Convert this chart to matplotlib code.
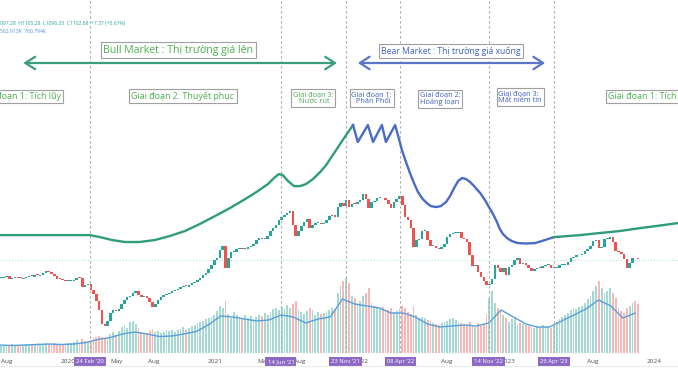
import numpy as np
import pandas as pd
import matplotlib
matplotlib.use('Agg')
import matplotlib.pyplot as plt
import matplotlib.dates as mdates
from matplotlib.lines import Line2D

plt.rcParams['font.family'] = ['Open Sans', 'DejaVu Sans']

# weekly closes (index points), weeks starting Mon 2019-07-15
closes = [
    985, 990, 995, 975, 980, 985, 980, 975, 980, 990, 995, 990,           # 2019 Jul-Sep
    1000, 995, 1005, 1015, 1030, 1020, 1010, 995, 975, 970, 965, 960, 965,  # 2019 Oct-Dec
    965, 970, 985, 980, 920, 935, 940, 905, 880, 830, 770, 680, 665,      # 2020 Jan-Mar
    700, 755, 775, 765, 780, 815, 835, 855, 865, 885, 900, 870, 860,      # 2020 Apr-Jun
    865, 850, 825, 795, 815, 835, 855, 870, 878, 885, 898, 905, 910,      # 2020 Jul-Sep
    920, 930, 925, 935, 950, 958, 970, 985, 1000, 1015, 1040, 1065, 1100,  # 2020 Oct-Dec
    1115, 1165, 1195, 1050, 1110, 1150, 1155, 1175, 1180, 1170, 1175, 1185, 1190,  # 2021 Jan-Mar
    1205, 1230, 1245, 1235, 1240, 1260, 1290, 1310, 1330, 1365, 1380, 1395, 1410,  # 2021 Apr-Jun
    1420, 1330, 1260, 1290, 1320, 1350, 1370, 1310, 1330, 1340, 1345, 1335, 1340,  # 2021 Jul-Sep
    1360, 1390, 1395, 1385, 1445, 1475, 1455, 1490, 1445, 1470, 1465, 1480, 1495,  # 2021 Oct-Dec
    1530, 1500, 1440, 1480, 1485, 1505, 1510, 1505, 1495, 1470, 1440, 1480, 1500,  # 2022 Jan-Mar
    1520, 1460, 1380, 1365, 1310, 1185, 1230, 1240, 1290, 1290, 1230, 1190, 1195,  # 2022 Apr-Jun
    1180, 1170, 1185, 1205, 1250, 1270, 1275, 1280, 1282, 1245, 1235, 1215, 1130,  # 2022 Jul-Sep
    1060, 1065, 1020, 990, 960, 935, 945, 975, 1065, 1045, 1020, 1050, 1005,      # 2022 Oct-Dec
    1055, 1070, 1100, 1110, 1075, 1080, 1065, 1050, 1030, 1040, 1050, 1045, 1060,  # 2023 Jan-Mar
    1065, 1065, 1045, 1050, 1050, 1065, 1065, 1070, 1090, 1110, 1120, 1130, 1130,  # 2023 Apr-Jun
    1140, 1160, 1175, 1195, 1225, 1230, 1180, 1185, 1235, 1240, 1250, 1215, 1160,  # 2023 Jul-Sep
    1150, 1140, 1105, 1045, 1080, 1110, 1105, 1103,                                # 2023 Oct-Nov
]

# weekly volume (million shares)
volumes = [
    150, 170, 160, 140, 180, 160, 150, 170, 150, 190, 160, 170,
    180, 200, 170, 190, 210, 190, 180, 200, 170, 190, 180, 160, 200,
    200, 220, 260, 180, 280, 240, 230, 270, 300, 320, 350, 330, 300,
    310, 380, 420, 360, 450, 520, 560, 500, 620, 650, 580, 500, 420,
    380, 400, 450, 480, 420, 440, 400, 430, 460, 440, 470, 420, 460,
    480, 520, 460, 500, 540, 560, 600, 620, 640, 680, 700, 720, 760,
    850, 950, 900, 1050, 780, 700, 820, 760, 720, 680, 760, 700, 740,
    680, 720, 760, 740, 800, 760, 820, 880, 900, 860, 920, 880, 960,
    900, 980, 1050, 860, 820, 780, 840, 900, 860, 760, 820, 780, 800,
    840, 860, 900, 880, 1200, 1350, 1450, 1500, 1400, 1150, 1100, 1000, 1050,
    1150, 1200, 1300, 1000, 950, 900, 880, 920, 850, 860, 900, 820, 840,
    880, 950, 900, 820, 780, 950, 760, 700, 720, 700, 660, 640, 600,
    580, 560, 600, 620, 640, 680, 700, 660, 620, 600, 580, 560, 620,
    560, 520, 600, 540, 580, 780, 1100, 1250, 1000, 900, 850, 760, 700,
    620, 680, 720, 560, 600, 580, 560, 540, 520, 500, 540, 520, 560,
    540, 520, 500, 560, 620, 680, 720, 760, 800, 860, 900, 880, 920,
    940, 1000, 1080, 1150, 1250, 1350, 1450, 1300, 1200, 1250, 1300, 1200, 1100,
    900, 850, 800, 900, 950, 1000, 1050, 980,
]

# monthly volume moving average (mid-month), Jul 2019 -> Nov 2023
vol_ma = [
    160, 150, 160, 170, 180, 170,
    180, 210, 270, 310, 380, 420, 380, 330, 340, 380, 430, 560,
    740, 720, 680, 640, 660, 760, 720, 600, 680, 720, 1080, 980,
    940, 900, 800, 800, 720, 580, 520, 540, 560, 540, 600, 860,
    720, 580, 520, 520, 640, 760, 880, 1060, 940, 700, 800,
]

# hand-drawn cycle curves
bull_dates = ['2019-07-15', '2019-11-04', '2020-02-24', '2020-03-20', '2020-04-19', '2020-05-21',
              '2020-06-27', '2020-08-04', '2020-09-10', '2020-10-18', '2020-11-24', '2021-01-01',
              '2021-02-07', '2021-03-17', '2021-04-18', '2021-05-13', '2021-05-28', '2021-06-09',
              '2021-06-19', '2021-07-02', '2021-07-17', '2021-08-01', '2021-08-16', '2021-09-02',
              '2021-09-20', '2021-10-05', '2021-10-25', '2021-11-17', '2021-12-11']
bull_vals = [1263, 1263, 1263, 1250, 1231, 1218, 1218, 1231, 1257, 1290, 1336, 1388, 1440, 1499,
             1552, 1598, 1637, 1663, 1656, 1617, 1584, 1584, 1598, 1630, 1676, 1722, 1801, 1892, 1984]

bear_dates = ['2021-12-11', '2021-12-23', '2022-01-17', '2022-01-30', '2022-02-21', '2022-03-03',
              '2022-03-26', '2022-04-02', '2022-04-12', '2022-04-22', '2022-05-02', '2022-05-12',
              '2022-05-22', '2022-06-03', '2022-06-13', '2022-06-23', '2022-07-06', '2022-07-18',
              '2022-07-31', '2022-08-10', '2022-08-20', '2022-08-30', '2022-09-09', '2022-09-19',
              '2022-09-29', '2022-10-11', '2022-10-24', '2022-11-05', '2022-11-15', '2022-11-25',
              '2022-12-05', '2022-12-12', '2022-12-20', '2022-12-30', '2023-01-11', '2023-01-26',
              '2023-02-15', '2023-03-10', '2023-04-04', '2023-04-26']
bear_vals = [1984, 1873, 1984, 1873, 1984, 1873, 1984, 1918, 1820, 1742, 1670, 1604, 1545, 1499,
             1473, 1453, 1447, 1453, 1480, 1519, 1571, 1617, 1637, 1630, 1611, 1578, 1539, 1493,
             1447, 1401, 1349, 1303, 1270, 1244, 1224, 1211, 1208, 1211, 1231, 1250]

bull2_dates = ['2023-04-26', '2023-06-30', '2023-08-19', '2023-10-08', '2023-11-27', '2024-01-16', '2024-02-29']
bull2_vals = [1250, 1263, 1277, 1290, 1309, 1326, 1342]

events = ['2020-02-24', '2021-06-14', '2021-11-23', '2022-04-08', '2022-11-14', '2023-04-26']
event_labels = ["24 Feb '20", "14 Jun '21", "23 Nov '21", "08 Apr '22", "14 Nov '22", "26 Apr '23"]

tick_dates = ['2019-08-01', '2020-01-01', '2020-05-01', '2020-08-01', '2021-01-01', '2021-05-01',
              '2021-08-01', '2022-01-01', '2022-05-01', '2022-08-01', '2023-01-01', '2023-05-01',
              '2023-08-01', '2024-01-01']
tick_labels = ['Aug', '2020', 'May', 'Aug', '2021', 'May', 'Aug', '2022', 'May', 'Aug', '2023',
               'May', 'Aug', '2024']

last_close = 1103

weeks = pd.date_range('2019-07-15', periods=len(closes), freq='7D') + pd.Timedelta(days=2)
x = mdates.date2num(weeks)
c = np.array(closes, dtype=float)
o = np.r_[c[0], c[:-1]]
up = c >= o

fig = plt.figure(figsize=(6.78, 3.81), dpi=100)
ax = fig.add_axes([0, 28 / 381, 1, 353 / 381])
ax2 = ax.twinx()
ax.set_zorder(ax2.get_zorder() + 1)
ax.patch.set_visible(False)

# volume
vcol = np.where(up[:, None], [[0.15, 0.65, 0.6, 0.42]], [[0.94, 0.33, 0.31, 0.42]])
ax2.bar(x, volumes, width=4.5, color=vcol, linewidth=0)
ma_x = mdates.date2num(pd.date_range('2019-07-01', periods=len(vol_ma), freq='MS') + pd.Timedelta(days=14))
ax2.plot(ma_x, vol_ma, color='#5a9fd8', lw=1.0)
ax2.set_ylim(0, 7060)
ax2.set_axis_off()

# candles
h = c - o
h = np.where(np.abs(h) < 6, 6, h)
ax.bar(x, h, bottom=o, width=6.2, color=np.where(up, '#26a69a', '#ef5350'), linewidth=0)

ax.axhline(last_close, color='#26a69a', alpha=0.4, lw=0.7, ls=(0, (1, 2)))
for d in events:
    ax.axvline(mdates.date2num(pd.Timestamp(d)), color='#a8a8a8', lw=0.8, ls=(0, (2, 2.5)))

def dn(lst):
    return mdates.date2num(pd.to_datetime(lst))

ax.plot(dn(bull_dates), bull_vals, color='#2f9c7a', lw=1.7, solid_joinstyle='round', zorder=4)
ax.plot(dn(bear_dates), bear_vals, color='#4a6bc6', lw=1.7, solid_joinstyle='round', zorder=4)
ax.plot(dn(bull2_dates), bull2_vals, color='#2f9c7a', lw=1.7, solid_joinstyle='round', zorder=4)

tr = ax.get_xaxis_transform()
green_txt, blue_txt = '#4caf50', '#4060c0'
box = dict(boxstyle='square,pad=0.25', fc='white', ec='#a0a0a0', lw=0.8)

def t(d, y, s, col, size, ha='center', ma='center'):
    ax.text(mdates.date2num(pd.Timestamp(d)), y, s, transform=tr, ha=ha, va='center', ma=ma,
            color=col, fontsize=size, bbox=box, zorder=6, linespacing=1.05)

# arrows
ax.annotate('', xy=(mdates.date2num(pd.Timestamp('2019-09-04')), 0.8215),
            xytext=(mdates.date2num(pd.Timestamp('2021-11-08')), 0.8215), xycoords=tr, textcoords=tr,
            arrowprops=dict(arrowstyle='<->,head_length=0.7,head_width=0.45', color='#3a9e7e', lw=1.6))
ax.annotate('', xy=(mdates.date2num(pd.Timestamp('2021-12-16')), 0.8215),
            xytext=(mdates.date2num(pd.Timestamp('2023-04-11')), 0.8215), xycoords=tr, textcoords=tr,
            arrowprops=dict(arrowstyle='<->,head_length=0.7,head_width=0.45', color='#5a76c8', lw=1.6))

t('2020-10-01', 0.858, 'Bull Market : Thị trường giá lên', green_txt, 7.6)
t('2022-08-12', 0.856, 'Bear Market : Thị trường giá xuống', blue_txt, 6.2)
t('2019-12-14', 0.727, 'Giai đoạn 1: Tích lũy', green_txt, 6.4, ha='right')
t('2020-10-13', 0.727, 'Giai đoạn 2: Thuyết phục', green_txt, 6.4)
t('2021-09-02', 0.722, 'Giai đoạn 3:\n Nước rút', green_txt, 5.3)
t('2022-01-27', 0.722, 'Giai đoạn 1:\n Phân Phối', blue_txt, 5.3)
t('2022-07-16', 0.720, 'Giai đoạn 2:\nHoảng loạn', blue_txt, 5.3, ma='left')
t('2023-02-01', 0.725, 'Giai đoạn 3:\nMất niềm tin', blue_txt, 5.3, ma='left')
t('2023-09-09', 0.727, 'Giai đoạn 1: Tích lũy', green_txt, 6.4, ha='left')

ax.set_xlim(mdates.date2num(pd.Timestamp('2020-01-01')) - 170.3,
            mdates.date2num(pd.Timestamp('2020-01-01')) + 1520.4)
ax.set_ylim(491, 2803)
ax.set_xticks(dn(tick_dates))
ax.set_xticklabels(tick_labels)
ax.tick_params(axis='x', length=0, pad=4, labelsize=4.6, labelcolor='#505050')
ax.set_yticks([])
for s in ax.spines.values():
    s.set_visible(False)

for d, lab in zip(events, event_labels):
    ax.text(mdates.date2num(pd.Timestamp(d)), -0.024, lab, transform=tr, ha='center', va='center',
            fontsize=4.2, color='white', clip_on=False, zorder=7,
            bbox=dict(boxstyle='square,pad=0.35', fc='#8c69c4', ec='none'))

fig.text(0.0, 1 - 24 / 381, "097.28  H1105.28  L1096.33  C1102.88  +7.37 (+0.67%)",
         fontsize=3.6, color='#26a69a', va='center')
fig.text(0.0, 1 - 31.5 / 381, "562.913K  760.794K", fontsize=3.6, color='#4f8fd6', va='center')
fig.add_artist(Line2D([0, 1], [1 - 366 / 381] * 2, color='#ececec', lw=0.8))

fig.savefig('out.png', dpi=100, facecolor='white')
